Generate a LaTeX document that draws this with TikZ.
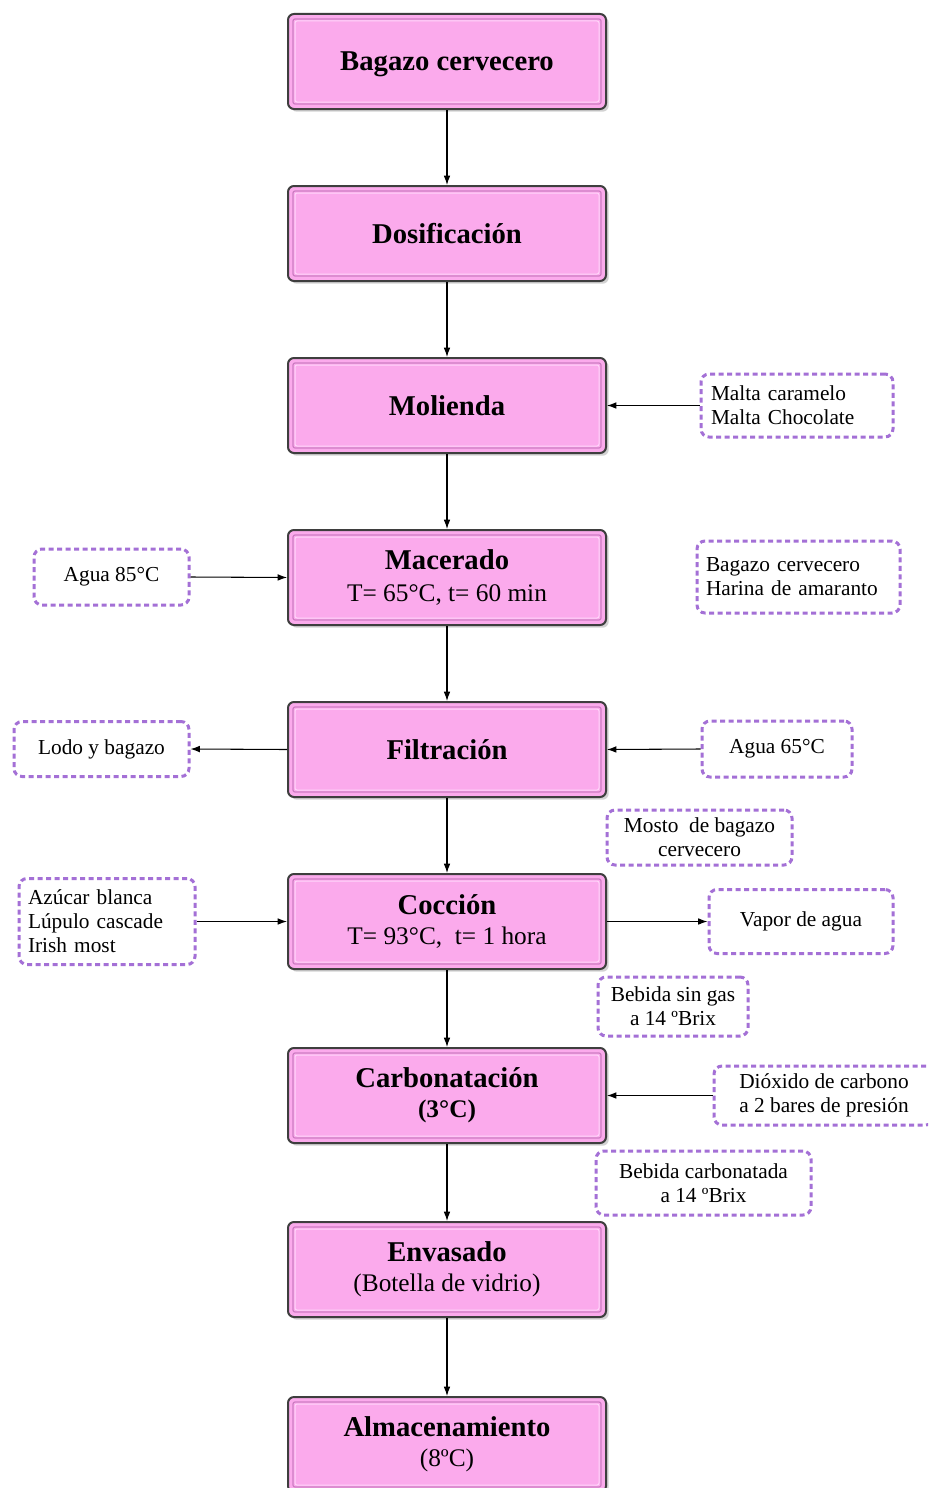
\documentclass[tikz,border=0pt]{standalone}
\usepackage{fontspec}
\setmainfont{Liberation Serif}
\usetikzlibrary{shadows,arrows.meta}
\newlength\px \setlength\px{0.75pt}
\definecolor{boxpink}{RGB}{251,170,236}
\definecolor{boxedge}{RGB}{62,62,62}
\definecolor{bevdark}{RGB}{205,125,195}
\definecolor{bevlight}{RGB}{255,214,250}
\definecolor{dashpurple}{RGB}{164,112,214}

\tikzset{
  stage/.style={draw=boxedge, line width=2\px, fill=boxpink,
    rounded corners=6\px, minimum width=318\px, minimum height=95\px,
    align=center, inner sep=0pt,
    font=\fontsize{19}{22.5}\selectfont,
    drop shadow={shadow xshift=2pt, shadow yshift=-2pt, opacity=0.35},
    path picture={
      \draw[bevdark, line width=1.2\px, rounded corners=2\px]
        ([shift={(5\px,-5\px)}]path picture bounding box.north west) rectangle
        ([shift={(-5\px,5\px)}]path picture bounding box.south east);
      \draw[bevlight, line width=1\px, rounded corners=2\px]
        ([shift={(7\px,-7\px)}]path picture bounding box.north west) rectangle
        ([shift={(-7\px,7\px)}]path picture bounding box.south east);
    }},
  note/.style={draw=dashpurple, line width=3\px,
    dash pattern=on 5\px off 3.5\px, rounded corners=8\px,
    fill=white, align=center, inner sep=0pt,
    font=\fontsize{16}{18}\selectfont},
  leftnote/.style={note, align=left},
  arr/.style={-{Latex[length=7pt,width=5pt]}, line width=0.8pt, black},
}

\begin{document}
\begin{tikzpicture}[x=0.75pt, y=-0.75pt]
  \clip (0,0) rectangle (928,1488);
  \fill[white] (0,0) rectangle (928,1488);

  % main process stages
  \node[stage, text depth=0pt] (bagazo) at (447,61.5) {\textbf{\fontsize{21.5}{22.5}\selectfont Bagazo cervecero}};
  \node[stage] (dosif) at (447,233.5) {\textbf{\fontsize{21.5}{22.5}\selectfont Dosificación}};
  \node[stage] (molienda) at (447,405.5) {\textbf{\fontsize{21.5}{22.5}\selectfont Molienda}};
  \node[stage, font=\fontsize{19}{24.5}\selectfont] (macerado) at (447,577.5)
    {\textbf{\fontsize{21.5}{24.5}\selectfont Macerado}\\T= 65°C, t= 60 min};
  \node[stage] (filtra) at (447,749.5) {\textbf{\fontsize{21.5}{22.5}\selectfont Filtración}};
  \node[stage] (coccion) at (447,921.5)
    {\textbf{\fontsize{21.5}{22.5}\selectfont Cocción}\\T= 93°C,\ \ t= 1 hora};
  \node[stage] (carbo) at (447,1095.5)
    {\textbf{\fontsize{21.5}{22.5}\selectfont Carbonatación}\\\textbf{(3°C)}};
  \node[stage] (envasado) at (447,1269.5)
    {\textbf{\fontsize{21.5}{22.5}\selectfont Envasado}\\(Botella de vidrio)};
  \node[stage] (almac) at (447,1444.5)
    {\textbf{\fontsize{21.5}{22.5}\selectfont Almacenamiento}\\(8ºC)};

  % side inputs, outputs and intermediate streams
  \node[leftnote, minimum width=192\px, minimum height=63\px, text width=172\px] (malta) at (797,405.5)
    {Malta caramelo\\Malta Chocolate};
  \node[note, minimum width=155\px, minimum height=56\px] (agua85) at (111.5,577) {Agua 85°C};
  \node[leftnote, minimum width=203\px, minimum height=72\px, text width=185\px] (harina) at (798.5,577)
    {Bagazo cervecero\\Harina de amaranto};
  \node[note, minimum width=175\px, minimum height=55\px] (lodo) at (101.5,749) {Lodo y bagazo};
  \node[note, minimum width=150\px, minimum height=56\px] (agua65) at (777,749) {Agua 65°C};
  \node[note, minimum width=185\px, minimum height=55\px] (mosto) at (699.5,837.5)
    {Mosto\ \ de bagazo\\cervecero};
  \node[leftnote, minimum width=176\px, minimum height=86\px, text width=158\px] (azucar) at (107,921.5)
    {Azúcar blanca\\Lúpulo cascade\\Irish most};
  \node[note, minimum width=184\px, minimum height=64\px] (vapor) at (801,921.5) {Vapor de agua};
  \node[note, minimum width=150\px, minimum height=59\px] (singas) at (673,1006.5)
    {Bebida sin gas\\a 14 ºBrix};
  \node[note, minimum width=220\px, minimum height=59\px] (dioxido) at (824,1095.5)
    {Dióxido de carbono\\a 2 bares de presión};
  \node[note, minimum width=215\px, minimum height=64\px] (carbonatada) at (703.5,1183)
    {Bebida carbonatada\\a 14 ºBrix};

  % main flow
  \draw[arr] (bagazo) -- (dosif);
  \draw[arr] (dosif) -- (molienda);
  \draw[arr] (molienda) -- (macerado);
  \draw[arr] (macerado) -- (filtra);
  \draw[arr] (filtra) -- (coccion);
  \draw[arr] (coccion) -- (carbo);
  \draw[arr] (carbo) -- (envasado);
  \draw[arr] (envasado) -- (almac);

  % side flows
  \draw[arr] (malta.west) -- (molienda.east);
  \draw[arr] (agua85.east) -- (macerado.west);
  \draw[arr] (filtra.west) -- (lodo.east);
  \draw[arr] (agua65.west) -- (filtra.east);
  \draw[arr] (azucar.east) -- (coccion.west);
  \draw[arr] (coccion.east) -- (vapor.west);
  \draw[arr] (dioxido.west) -- (carbo.east);
\end{tikzpicture}
\end{document}
